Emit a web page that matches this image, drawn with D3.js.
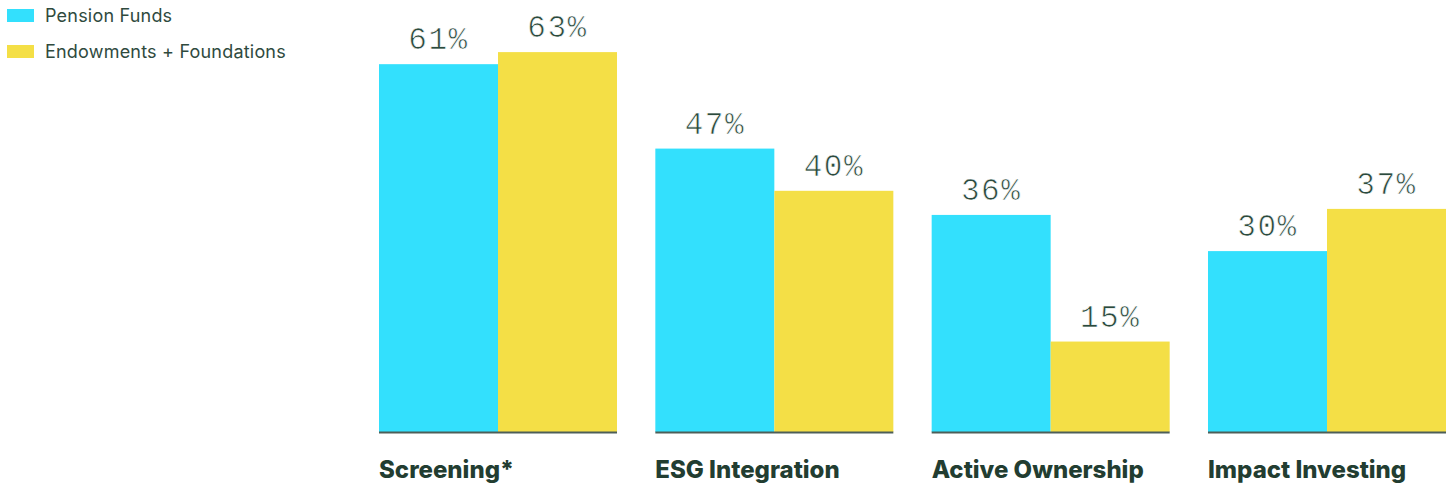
<!DOCTYPE html>
<html><head><meta charset="utf-8">
<script src="https://cdn.jsdelivr.net/npm/d3@7"></script>
<style>
html,body{margin:0;padding:0;background:#fff;}
svg{display:block;}
</style></head>
<body>
<svg id="chart" width="1453" height="485"></svg>
<script>
const categories = ["Screening*", "ESG Integration", "Active Ownership", "Impact Investing"];
const seriesNames = ["Pension Funds", "Endowments + Foundations"];
const pensionFunds = [61, 47, 36, 30];
const endowments = [63, 40, 15, 37];
const colors = ["#33e0fd", "#f4df46"];

const svg = d3.select("#chart");
const baseY = 432;
const gx = d3.scaleBand().domain(categories).range([379, 1446]).paddingInner(0.1387).paddingOuter(0);
const x1 = d3.scaleBand().domain(seriesNames).range([0, gx.bandwidth()]).padding(0);
const y = d3.scaleLinear().domain([0, 100]).range([baseY, baseY - 603]);

const data = categories.map((c, i) => ({cat: c, vals: [pensionFunds[i], endowments[i]]}));

const groups = svg.selectAll("g.grp").data(data).enter().append("g")
  .attr("transform", d => `translate(${gx(d.cat)},0)`);

groups.selectAll("rect").data(d => d.vals.map((v, j) => ({v, j})))
  .enter().append("rect")
  .attr("x", d => x1(seriesNames[d.j]))
  .attr("width", x1.bandwidth())
  .attr("y", d => y(d.v))
  .attr("height", d => baseY - y(d.v))
  .attr("fill", d => colors[d.j]);

groups.selectAll("text.val").data(d => d.vals.map((v, j) => ({v, j})))
  .enter().append("text")
  .attr("class", "val")
  .attr("x", d => x1(seriesNames[d.j]) + x1.bandwidth() / 2)
  .attr("y", d => y(d.v) - 15)
  .attr("text-anchor", "middle")
  .attr("font-family", "'Liberation Mono', 'DejaVu Sans Mono', monospace")
  .attr("font-size", 31)
  .attr("letter-spacing", 1.5)
  .attr("fill", "#2b4a3d")
  .attr("stroke", "#ffffff")
  .attr("stroke-width", 0.7)
  .text(d => d.v + "%");

groups.append("line")
  .attr("x1", 0).attr("x2", gx.bandwidth())
  .attr("y1", baseY + 0.5).attr("y2", baseY + 0.5)
  .attr("stroke", "#4d5e58").attr("stroke-width", 2);

groups.append("text")
  .attr("x", 0).attr("y", 478)
  .attr("font-family", "Inter, 'Open Sans', sans-serif")
  .attr("font-weight", 800)
  .attr("font-size", 24)
  .attr("letter-spacing", 0)
  .attr("fill", "#223d31")
  .text(d => d.cat);

const leg = svg.selectAll("g.leg").data(seriesNames).enter().append("g")
  .attr("transform", (d, i) => `translate(7,${9 + i * 36})`);
leg.append("rect").attr("width", 27).attr("height", 13).attr("fill", (d, i) => colors[i]);
leg.append("text").attr("x", 38).attr("y", 13)
  .attr("font-family", "Inter, 'Open Sans', sans-serif")
  .attr("font-size", 18)
  .attr("letter-spacing", 0.2)
  .attr("fill", "#2f4a3e")
  .text(d => d);
</script>
</body></html>
